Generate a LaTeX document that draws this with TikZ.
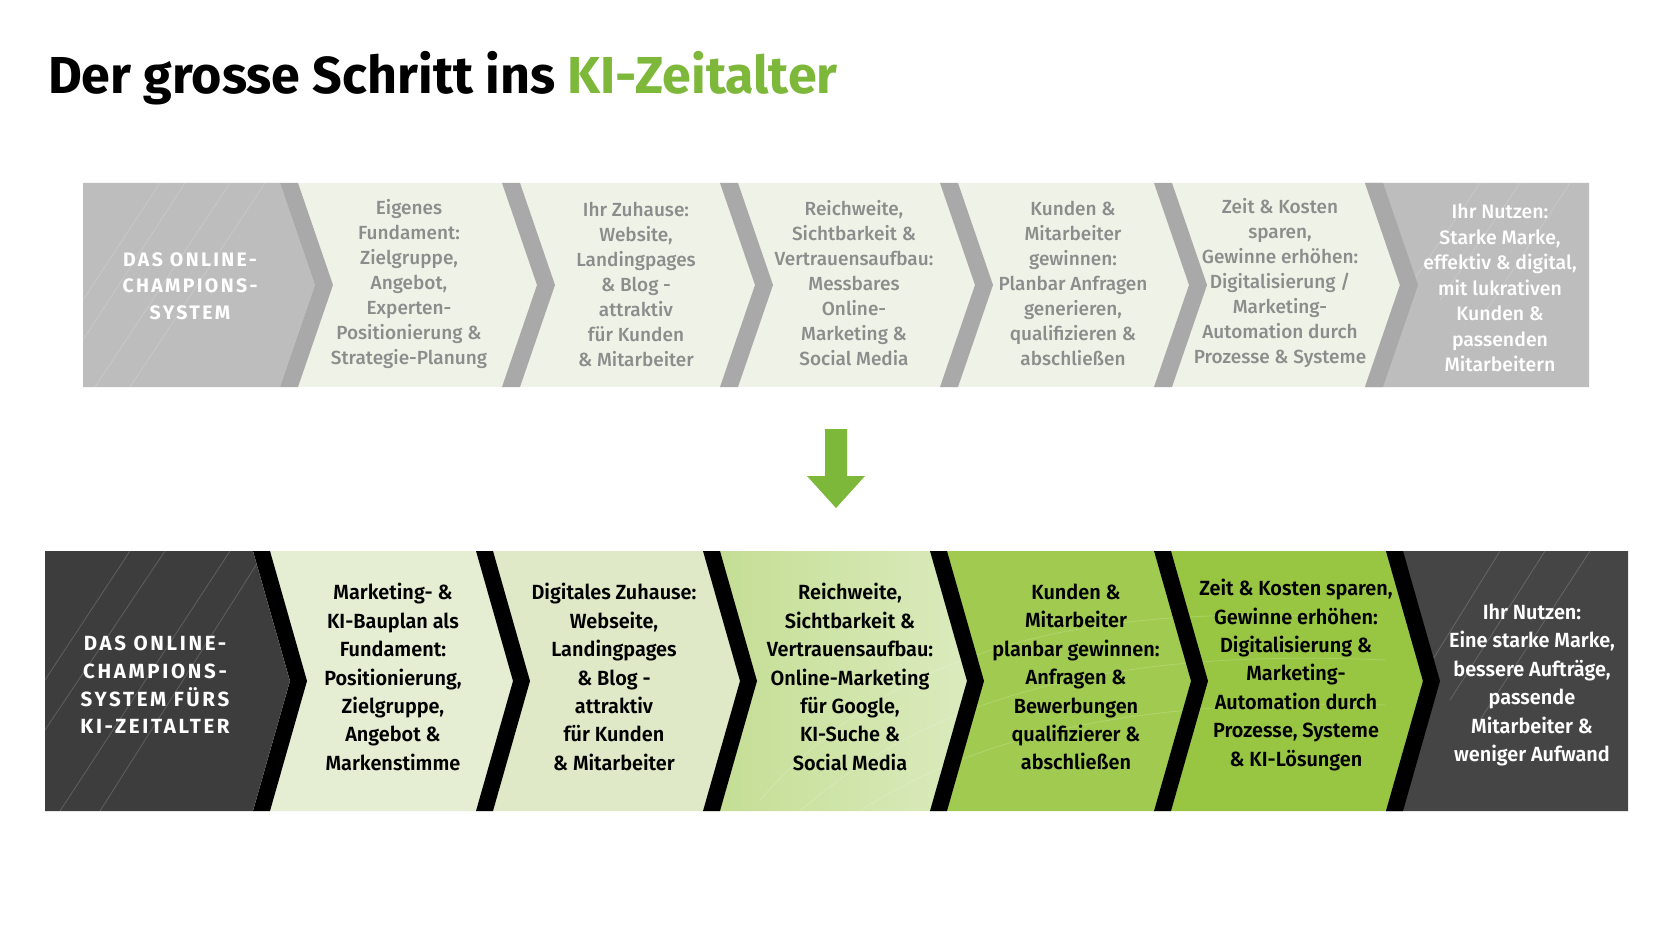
\documentclass[tikz,border=0pt]{standalone}
\usepackage{fontspec}
\setmainfont{Fira Sans}
\newfontfamily\medfont{Fira Sans Medium}
\newfontfamily\semifont{Fira Sans SemiBold}[FakeStretch=0.97]
\newfontfamily\headfont{Fira Sans}
\newfontfamily\titlefont{Fira Sans}
\usepackage{tikz}

\definecolor{topgray}{HTML}{BDBDBD}
\definecolor{topstripe}{HTML}{A9A9A9}
\definecolor{toplight}{HTML}{EEF2E7}
\definecolor{topink}{HTML}{8C8C8C}
\definecolor{botdark}{HTML}{3D3D3D}
\definecolor{botlast}{HTML}{454545}
\definecolor{segA}{HTML}{E5EDD3}
\definecolor{segB}{HTML}{DFE9C7}
\definecolor{segC}{HTML}{C3DD92}
\definecolor{segD}{HTML}{A0CB50}
\definecolor{segE}{HTML}{98C643}
\definecolor{kigreen}{HTML}{7DB83A}

\begin{document}
\begin{tikzpicture}[x=1pt, y=-1pt,
  every node/.style={inner sep=0pt, outer sep=0pt, align=center},
  toptext/.style={font=\medfont\fontsize{19}{25}\selectfont, text=topink},
  bottext/.style={font=\semifont\fontsize{20.5}{28.4}\selectfont, text=black},
  headtext/.style={font=\headfont\bfseries\addfontfeature{LetterSpace=12}\fontsize{19.5}{26.5}\selectfont, text=white},
  bigheadtext/.style={font=\headfont\bfseries\addfontfeature{LetterSpace=13}\fontsize{20.5}{27.7}\selectfont, text=white},
  endtext/.style={font=\medfont\fontsize{19.5}{25.5}\selectfont, text=white},
  deco/.style={white, opacity=0.18, line width=0.8pt}]
\useasboundingbox (0,0) rectangle (1672,941);
\fill[white] (0,0) rectangle (1672,941);

\node[anchor=base west, font=\titlefont\bfseries\fontsize{52}{60}\selectfont] (title) at (48,94) {Der grosse Schritt ins \textcolor{kigreen}{KI-Zeitalter}};

\fill[toplight] (83,183) rectangle (1589,387);
\fill[topgray] (83,183) -- (280,183) -- (315,285) -- (280,387) -- (83,387) -- cycle;
\fill[topgray] (1365,183) -- (1589,183) -- (1589,387) -- (1365,387) -- (1400,285) -- cycle;
\begin{scope}
\clip (83,183) -- (280,183) -- (315,285) -- (280,387) -- (83,387) -- cycle;
\draw[deco] (83,300) -- (160,183) (83,340) -- (185,183) (95,387) -- (230,183) (130,387) -- (265,183);
\end{scope}
\begin{scope}
\clip (1365,183) -- (1589,183) -- (1589,387) -- (1365,387) -- (1400,285) -- cycle;
\draw[deco] (1400,300) -- (1480,183) (1440,300) -- (1520,183) (1480,320) -- (1570,183);
\end{scope}
\fill[topstripe] (280,183) -- ++(18,0) -- ++(35,102) -- ++(-35,102) -- ++(-18,0) -- ++(35,-102) -- cycle;
\fill[topstripe] (502,183) -- ++(18,0) -- ++(35,102) -- ++(-35,102) -- ++(-18,0) -- ++(35,-102) -- cycle;
\fill[topstripe] (720,183) -- ++(18,0) -- ++(35,102) -- ++(-35,102) -- ++(-18,0) -- ++(35,-102) -- cycle;
\fill[topstripe] (940,183) -- ++(18,0) -- ++(35,102) -- ++(-35,102) -- ++(-18,0) -- ++(35,-102) -- cycle;
\fill[topstripe] (1154,183) -- ++(18,0) -- ++(35,102) -- ++(-35,102) -- ++(-18,0) -- ++(35,-102) -- cycle;
\fill[topstripe] (1365,183) -- ++(18,0) -- ++(35,102) -- ++(-35,102) -- ++(-18,0) -- ++(35,-102) -- cycle;

\node[headtext] (oldsystem) at (190,286) {DAS ONLINE-\\CHAMPIONS-\\SYSTEM};
\node[toptext] (oldbase) at (409,284) {Eigenes\\Fundament:\\Zielgruppe,\\Angebot,\\Experten-\\Positionierung \&\\Strategie-Planung};
\node[toptext] (oldhome) at (636,284) {Ihr Zuhause:\\Website,\\Landingpages\\\& Blog -\\attraktiv\\für Kunden\\\& Mitarbeiter};
\node[toptext] (oldreach) at (854,283) {Reichweite,\\Sichtbarkeit \&\\Vertrauensaufbau:\\Messbares\\Online-\\Marketing \&\\Social Media};
\node[toptext] (oldleads) at (1073,283) {Kunden \&\\Mitarbeiter\\gewinnen:\\Planbar Anfragen\\generieren,\\qualifizieren \&\\abschließen};
\node[toptext] (oldauto) at (1280,283) {Zeit \& Kosten\\sparen,\\Gewinne erhöhen:\\Digitalisierung /\\Marketing-\\Automation durch\\Prozesse \& Systeme};
\node[endtext] (oldbenefit) at (1500,288) {Ihr Nutzen:\\Starke Marke,\\effektiv \& digital,\\mit lukrativen\\Kunden \&\\passenden\\Mitarbeitern};

\fill[kigreen] (825,429) -- (847,429) -- (847,476) -- (865,476) -- (836,508) -- (807,476) -- (825,476) -- cycle;

\fill[botdark] (45,551) -- (253,551) -- (290,681) -- (253,811) -- (45,811) -- cycle;
\fill[segA] (253,551) -- (476,551) -- (513,681) -- (476,811) -- (253,811) -- (290,681) -- cycle;
\fill[segB] (476,551) -- (703,551) -- (740,681) -- (703,811) -- (476,811) -- (513,681) -- cycle;
\shade[left color=segC, right color=segC!60!white] (703,551) -- (930,551) -- (967,681) -- (930,811) -- (703,811) -- (740,681) -- cycle;
\fill[segD] (930,551) -- (1154,551) -- (1191,681) -- (1154,811) -- (930,811) -- (967,681) -- cycle;
\fill[segE] (1154,551) -- (1386,551) -- (1423,681) -- (1386,811) -- (1154,811) -- (1191,681) -- cycle;
\fill[botlast] (1386,551) -- (1628,551) -- (1628,811) -- (1386,811) -- (1423,681) -- cycle;
\begin{scope}
\clip (45,551) -- (253,551) -- (290,681) -- (253,811) -- (45,811) -- cycle;
\draw[deco] (45,680) -- (130,551) (45,730) -- (165,551) (60,811) -- (230,551) (100,811) -- (265,551);
\end{scope}
\begin{scope}
\clip (1386,551) -- (1628,551) -- (1628,811) -- (1386,811) -- (1423,681) -- cycle;
\draw[deco] (1420,680) -- (1500,551) (1450,700) -- (1545,551) (1480,720) -- (1590,551);
\end{scope}
\begin{scope}
\clip (703,551) -- (1386,551) -- (1386,811) -- (703,811) -- cycle;
\draw[deco] (760,800) .. controls (900,640) and (1100,600) .. (1380,620);
\draw[deco] (800,811) .. controls (950,680) and (1150,650) .. (1386,660);
\draw[deco] (860,811) .. controls (1000,720) and (1180,700) .. (1386,705);
\end{scope}
\fill[black] (253,551) -- ++(17,0) -- ++(37,130) -- ++(-37,130) -- ++(-17,0) -- ++(37,-130) -- cycle;
\fill[black] (476,551) -- ++(17,0) -- ++(37,130) -- ++(-37,130) -- ++(-17,0) -- ++(37,-130) -- cycle;
\fill[black] (703,551) -- ++(17,0) -- ++(37,130) -- ++(-37,130) -- ++(-17,0) -- ++(37,-130) -- cycle;
\fill[black] (930,551) -- ++(17,0) -- ++(37,130) -- ++(-37,130) -- ++(-17,0) -- ++(37,-130) -- cycle;
\fill[black] (1154,551) -- ++(17,0) -- ++(37,130) -- ++(-37,130) -- ++(-17,0) -- ++(37,-130) -- cycle;
\fill[black] (1386,551) -- ++(17,0) -- ++(37,130) -- ++(-37,130) -- ++(-17,0) -- ++(37,-130) -- cycle;

\node[bigheadtext] (newsystem) at (155,685) {DAS ONLINE-\\CHAMPIONS-\\SYSTEM FÜRS\\KI-ZEITALTER};
\node[bottext] (newbase) at (393,677) {Marketing- \&\\KI-Bauplan als\\Fundament:\\Positionierung,\\Zielgruppe,\\Angebot \&\\Markenstimme};
\node[bottext] (newhome) at (614,677) {Digitales Zuhause:\\Webseite,\\Landingpages\\\& Blog -\\attraktiv\\für Kunden\\\& Mitarbeiter};
\node[bottext] (newreach) at (850,677) {Reichweite,\\Sichtbarkeit \&\\Vertrauensaufbau:\\Online-Marketing\\für Google,\\KI-Suche \&\\Social Media};
\node[bottext] (newleads) at (1076,677) {Kunden \&\\Mitarbeiter\\planbar gewinnen:\\Anfragen \&\\Bewerbungen\\qualifizierer \&\\abschließen};
\node[bottext] (newauto) at (1296,675) {Zeit \& Kosten sparen,\\Gewinne erhöhen:\\Digitalisierung \&\\Marketing-\\Automation durch\\Prozesse, Systeme\\\& KI-Lösungen};
\node[bottext, text=white] (newbenefit) at (1532,685) {Ihr Nutzen:\\Eine starke Marke,\\bessere Aufträge,\\passende\\Mitarbeiter \&\\weniger Aufwand};
\end{tikzpicture}
\end{document}
